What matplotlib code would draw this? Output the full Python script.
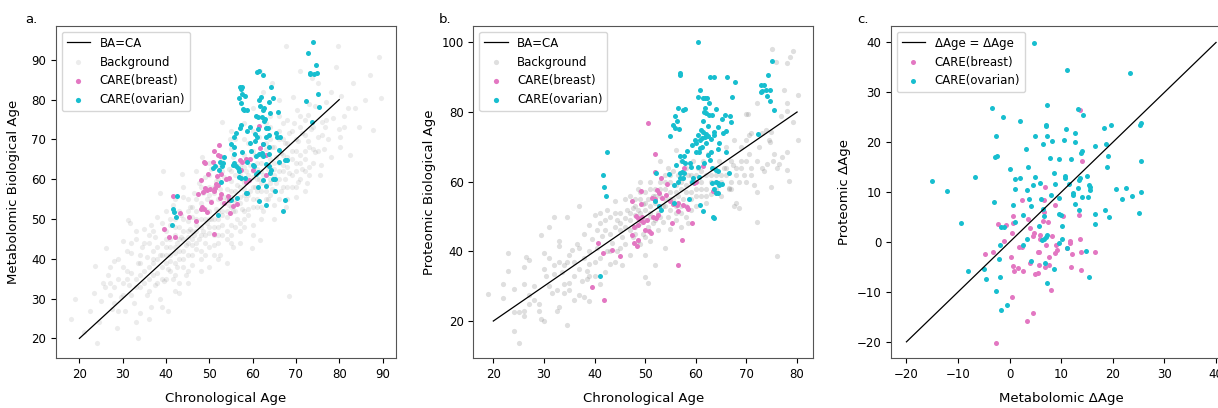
import numpy as np
import matplotlib.pyplot as plt

# ---- panel a: metabolomic biological age vs chronological age ----
bg_a = [
    (18.1, 25.0), (19.0, 29.8), (21.0, 21.5), (22.5, 27.0), (23.4, 31.3), (23.5, 38.3), (24.0, 18.9), (24.5, 24.0),
    (25.0, 29.5), (25.5, 34.0), (26.1, 42.6), (26.5, 36.0), (27.0, 31.0), (27.5, 27.5), (28.0, 39.5), (28.6, 22.7),
    (29.0, 35.0), (29.5, 30.5), (30.0, 44.5), (30.0, 38.0), (30.5, 27.0), (31.3, 49.8), (31.7, 49.0), (31.5, 33.5),
    (32.0, 41.5), (32.0, 36.5), (32.5, 29.0), (33.0, 45.0), (33.5, 20.0), (33.5, 39.0), (34.0, 33.0), (34.0, 26.5),
    (34.5, 43.0), (35.0, 47.5), (35.0, 37.0), (35.5, 31.0), (35.5, 40.5), (36.0, 44.0), (36.0, 35.0), (36.5, 28.0),
    (36.5, 48.5), (37.0, 39.0), (37.0, 42.0), (37.5, 33.5), (37.5, 45.5), (38.0, 36.5), (38.0, 50.5), (38.5, 56.6),
    (38.5, 41.0), (38.5, 30.0), (39.0, 44.0), (39.0, 38.0), (39.4, 62.0), (39.5, 47.5), (39.5, 34.5), (40.0, 41.0),
    (40.0, 52.0), (40.0, 45.0), (40.5, 37.5), (40.5, 27.0), (41.0, 48.5), (41.0, 43.0), (41.0, 39.5), (41.5, 53.5),
    (41.5, 35.0), (42.0, 46.0), (42.0, 41.5), (42.0, 50.0), (42.5, 44.0), (42.5, 38.0), (43.0, 48.0), (43.0, 42.0),
    (43.0, 31.5), (43.5, 51.0), (43.5, 45.5), (43.8, 61.2), (44.0, 40.0), (44.0, 47.0), (44.0, 55.5), (44.5, 43.5),
    (44.5, 36.0), (45.0, 49.5), (45.0, 45.5), (45.0, 41.0), (45.5, 53.0), (45.5, 47.5), (46.0, 43.5), (46.0, 50.5),
    (46.0, 38.5), (46.5, 56.5), (46.5, 46.0), (47.0, 52.0), (47.0, 48.5), (47.0, 42.5), (47.5, 59.0), (47.5, 45.0),
    (48.0, 54.0), (48.0, 50.0), (48.0, 40.0), (48.2, 65.7), (48.5, 47.0), (48.5, 56.5), (49.0, 52.5), (49.0, 44.0),
    (49.0, 60.5), (49.5, 49.0), (49.5, 55.0), (50.0, 46.5), (50.0, 52.0), (50.0, 58.0), (50.0, 38.0), (50.5, 50.0),
    (50.5, 54.5), (50.5, 62.5), (51.0, 48.0), (51.0, 56.5), (51.0, 43.5), (51.5, 52.5), (51.5, 59.5), (52.0, 50.0),
    (52.0, 55.0), (52.0, 46.0), (52.5, 57.5), (52.5, 63.0), (52.5, 41.0), (53.0, 52.0), (53.0, 48.5), (53.0, 74.5),
    (53.5, 55.5), (53.5, 60.5), (54.0, 50.5), (54.0, 57.5), (54.0, 45.0), (54.5, 53.5), (54.5, 62.5), (54.8, 70.0),
    (55.0, 55.5), (55.0, 48.5), (55.0, 59.5), (55.5, 52.0), (55.5, 65.5), (55.5, 43.0), (56.0, 57.0), (56.0, 54.0),
    (56.0, 61.0), (56.5, 50.0), (56.5, 58.5), (57.0, 55.5), (57.0, 63.5), (57.0, 47.0), (57.5, 60.0), (57.5, 52.5),
    (58.0, 57.5), (58.0, 66.0), (58.0, 50.0), (58.5, 62.0), (58.5, 55.0), (59.0, 59.5), (59.0, 52.5), (59.0, 69.0),
    (59.5, 57.0), (59.5, 63.5), (59.9, 42.6), (60.0, 60.5), (60.0, 55.0), (60.0, 48.5), (60.5, 58.0), (60.5, 66.0),
    (61.0, 62.5), (61.0, 53.0), (61.5, 60.0), (61.5, 70.5), (61.7, 44.8), (62.0, 57.0), (62.0, 64.0), (62.5, 61.0),
    (62.5, 52.0), (63.0, 67.5), (63.0, 58.5), (63.5, 62.5), (63.5, 55.0), (64.0, 65.0), (64.0, 60.0), (64.0, 73.0),
    (64.4, 84.1), (64.5, 57.5), (64.5, 68.0), (65.0, 62.5), (65.0, 53.5), (65.5, 65.5), (65.5, 59.0), (66.0, 70.0),
    (66.0, 62.0), (66.0, 80.0), (66.5, 57.0), (66.5, 66.5), (67.0, 63.5), (67.0, 74.0), (67.5, 60.0), (67.5, 69.0),
    (67.8, 53.1), (67.8, 93.4), (68.0, 65.5), (68.3, 30.7), (68.5, 71.5), (68.5, 61.5), (69.0, 67.0), (69.0, 58.0),
    (69.4, 80.6), (69.6, 74.1), (70.0, 64.0), (70.1, 55.6), (70.2, 77.4), (70.5, 59.4), (70.5, 69.5), (70.9, 87.1),
    (71.0, 66.0), (71.3, 71.6), (71.5, 62.5), (72.0, 75.0), (72.0, 65.0), (72.5, 59.0), (72.8, 69.5), (72.8, 76.2),
    (73.0, 63.0), (73.5, 72.5), (73.6, 85.4), (74.0, 67.5), (74.4, 66.9), (74.5, 78.5), (75.0, 70.5), (75.2, 84.1),
    (75.5, 61.1), (75.9, 63.6), (76.0, 74.5), (76.5, 67.5), (76.7, 73.2), (77.0, 79.5), (77.5, 70.0), (78.0, 65.5),
    (78.5, 75.5), (79.2, 88.3), (79.6, 93.4), (80.0, 72.5), (80.2, 68.2), (80.2, 70.7), (80.5, 80.8), (81.0, 76.0),
    (82.0, 77.8), (82.5, 66.1), (83.2, 84.1), (83.6, 77.8), (84.5, 73.0), (86.0, 80.0), (87.1, 86.2), (87.8, 72.4),
    (89.2, 90.7), (89.6, 80.5), (61.8, 87.1), (62.5, 82.0), (60.0, 78.0), (58.0, 74.0), (56.0, 70.0), (55.0, 67.5),
    (36.0, 38.0), (37.0, 36.0), (38.0, 40.0), (39.0, 41.0), (40.0, 43.0), (40.0, 39.0), (41.0, 41.0), (41.0, 45.0),
    (42.0, 43.0), (42.0, 39.0), (43.0, 45.0), (43.0, 40.0), (44.0, 42.0), (44.0, 45.0), (45.0, 44.0), (45.0, 47.0),
    (46.0, 45.0), (46.0, 41.0), (47.0, 47.0), (47.0, 44.0), (48.0, 46.0), (48.0, 48.0), (49.0, 46.0), (49.0, 50.0),
    (50.0, 48.0), (50.0, 50.0), (51.0, 50.0), (51.0, 46.0), (52.0, 52.0), (52.0, 48.0), (53.0, 51.0), (53.0, 54.0),
    (54.0, 52.0), (54.0, 55.0), (55.0, 53.0), (55.0, 57.0), (56.0, 55.0), (56.0, 52.0), (57.0, 58.0), (57.0, 54.0),
    (58.0, 56.0), (58.0, 59.0), (59.0, 56.0), (59.0, 61.0), (60.0, 58.0), (60.0, 62.0), (61.0, 57.0), (61.0, 60.0),
    (62.0, 59.0), (62.0, 62.0), (63.0, 61.0), (63.0, 57.0), (64.0, 63.0), (64.0, 59.0), (65.0, 61.0), (65.0, 64.0),
    (66.0, 60.0), (66.0, 64.0), (67.0, 62.0), (67.0, 66.0), (68.0, 63.0), (69.0, 65.0), (70.0, 62.0), (70.0, 67.0),
    (71.0, 64.0), (72.0, 67.0), (45.0, 55.0), (50.0, 61.0), (53.0, 65.0), (60.0, 72.0), (64.0, 76.0), (68.0, 75.0),
    (71.0, 73.0), (73.0, 79.0), (78.0, 82.0), (81.0, 73.0), (52.0, 40.0), (55.0, 44.0), (58.0, 48.0), (62.0, 50.0),
    (65.0, 50.0), (68.0, 55.0), (72.0, 57.0), (31.0, 37.0), (33.0, 35.0), (34.0, 39.0), (29.0, 27.0), (27.0, 34.0),
    (26.0, 33.0), (27.0, 38.0), (28.0, 33.0), (28.0, 29.0), (29.0, 40.0), (30.0, 34.0), (30.0, 31.0), (31.0, 42.0),
    (31.0, 35.0), (32.0, 31.0), (32.0, 44.0), (33.0, 33.0), (33.0, 47.0), (34.0, 36.0), (34.0, 41.0), (35.0, 34.0),
    (35.0, 44.0), (36.0, 46.0), (36.0, 32.0), (37.0, 40.0), (37.0, 47.0), (38.0, 34.0), (38.0, 43.0), (39.0, 49.0),
    (39.0, 35.0), (40.0, 47.0), (40.0, 35.0), (41.0, 50.0), (41.0, 37.0), (42.0, 48.0), (42.0, 36.0), (43.0, 52.0),
    (43.0, 34.0), (44.0, 50.0), (44.0, 38.0), (45.0, 52.0), (45.0, 37.0), (46.0, 53.0), (46.0, 47.0), (47.0, 55.0),
    (47.0, 50.0), (48.0, 42.0), (48.0, 58.0), (49.0, 41.0), (49.0, 57.0), (50.0, 43.0), (50.0, 56.0), (51.0, 58.0),
    (51.0, 41.0), (52.0, 60.0), (52.0, 44.0), (53.0, 46.0), (53.0, 62.0), (54.0, 47.0), (54.0, 60.0), (55.0, 62.0),
    (55.0, 46.0), (56.0, 48.0), (56.0, 64.0), (57.0, 49.0), (57.0, 61.0), (58.0, 52.0), (58.0, 63.0), (59.0, 51.0),
    (59.0, 65.0), (60.0, 53.0), (60.0, 67.0), (61.0, 55.0), (61.0, 64.0), (62.0, 53.0), (62.0, 66.0), (63.0, 55.0),
    (63.0, 69.0), (64.0, 56.0), (64.0, 70.0), (65.0, 57.0), (65.0, 68.0), (66.0, 55.0), (66.0, 72.0), (67.0, 58.0),
    (67.0, 70.0), (68.0, 58.0), (68.0, 69.0), (69.0, 61.0), (69.0, 72.0), (70.0, 58.0), (70.0, 70.0), (71.0, 60.0),
    (71.0, 76.0), (72.0, 62.0), (72.0, 71.0), (73.0, 68.0), (73.0, 61.0), (74.0, 73.0), (74.0, 64.0), (75.0, 67.0),
    (76.0, 71.0), (77.0, 75.0), (60.0, 46.0), (57.0, 44.0), (54.0, 39.0), (48.0, 37.0), (45.0, 34.0), (42.0, 32.0),
    (39.0, 28.0), (36.0, 25.0), (33.0, 24.0), (44.0, 58.0), (42.0, 55.0), (47.0, 62.0), (50.0, 64.0), (55.0, 72.0),
    (58.0, 70.0), (63.0, 74.0), (66.0, 76.0),
]

breast_a = [
    (52.2, 68.7), (51.0, 67.1), (52.0, 66.0), (52.5, 65.9), (48.8, 64.4), (49.0, 64.0), (50.9, 64.4), (49.8, 61.4),
    (51.8, 60.7), (52.8, 61.2), (48.0, 59.8), (53.8, 60.1), (54.6, 60.2), (51.6, 58.9), (49.0, 57.7), (49.5, 57.3),
    (50.2, 57.5), (51.0, 57.1), (51.3, 57.7), (47.3, 56.2), (48.6, 56.7), (52.8, 56.2), (50.5, 54.4), (54.2, 55.8),
    (54.6, 54.8), (48.3, 53.1), (48.7, 52.6), (48.1, 52.4), (49.4, 51.8), (45.2, 50.6), (43.2, 51.4), (46.9, 49.5),
    (51.1, 46.2), (39.5, 47.6), (40.7, 45.5), (42.0, 45.4), (41.7, 55.8), (54.8, 51.6), (55.5, 53.3), (56.5, 53.8),
    (53.3, 53.9), (57.1, 64.9), (57.5, 64.3), (58.5, 65.0), (59.4, 65.0), (57.4, 62.2), (58.5, 59.4), (59.2, 59.8),
    (60.2, 62.3), (61.4, 73.4), (62.5, 68.9), (61.8, 67.8), (63.2, 66.0), (63.2, 61.1), (52.5, 55.2), (52.1, 58.5),
]

ovarian_a = [
    (74.0, 94.6), (72.8, 91.7), (74.6, 88.7), (73.2, 86.5), (73.3, 86.8), (74.2, 86.5), (74.9, 86.6), (75.2, 81.5),
    (72.3, 79.6), (75.4, 78.2), (73.6, 74.4), (61.1, 87.0), (61.5, 87.2), (62.3, 86.1), (57.1, 83.1), (57.2, 82.6),
    (57.5, 83.1), (57.6, 81.4), (56.8, 80.4), (58.2, 80.9), (64.2, 83.1), (62.0, 80.7), (61.5, 79.9), (64.8, 80.3),
    (57.4, 79.1), (57.7, 77.6), (58.1, 77.4), (58.8, 77.4), (61.7, 78.3), (62.7, 77.8), (62.5, 77.4), (63.8, 79.4),
    (64.0, 76.6), (65.8, 76.8), (60.8, 75.9), (61.2, 75.6), (62.1, 75.7), (62.8, 75.2), (62.6, 74.7), (57.2, 73.5),
    (57.1, 72.9), (56.2, 71.5), (55.8, 70.5), (55.0, 68.9), (59.5, 73.2), (58.7, 72.1), (61.2, 72.7), (60.6, 71.3),
    (61.0, 70.6), (63.1, 72.8), (63.5, 72.9), (63.1, 70.7), (63.8, 71.1), (65.5, 71.6), (65.7, 70.6), (66.3, 70.7),
    (59.3, 69.0), (60.6, 69.5), (62.3, 68.9), (63.7, 68.0), (66.0, 67.4), (55.8, 68.1), (55.8, 66.3), (57.5, 66.8),
    (59.7, 67.2), (60.7, 65.9), (61.4, 66.4), (62.2, 66.6), (62.5, 65.8), (63.8, 66.4), (66.2, 64.3), (67.4, 64.8),
    (67.9, 64.9), (53.4, 65.7), (52.5, 64.2), (53.1, 64.0), (55.8, 64.1), (56.1, 63.2), (56.6, 62.8), (56.8, 62.1),
    (58.8, 64.4), (60.0, 63.6), (60.4, 63.3), (63.0, 63.8), (63.7, 63.2), (64.3, 62.2), (64.0, 61.5), (58.2, 60.2),
    (57.2, 60.2), (61.2, 61.9), (60.8, 61.4), (62.5, 59.8), (64.6, 60.0), (65.1, 60.0), (63.2, 58.3), (61.3, 58.1),
    (58.6, 56.6), (65.2, 57.1), (56.5, 55.2), (55.0, 54.8), (61.4, 54.6), (63.0, 53.4), (67.4, 54.9), (67.1, 52.0),
    (52.0, 50.9), (42.5, 55.8), (41.7, 52.4), (41.8, 51.8), (42.2, 50.6), (41.3, 48.4), (51.4, 63.3), (50.9, 62.8),
    (52.3, 62.3), (52.9, 63.2), (55.5, 63.6), (56.9, 60.6), (52.8, 59.4), (58.5, 56.5),
]

# ---- panel b: proteomic biological age vs chronological age ----
bg_b = [
    (19.0, 27.8), (22.0, 26.5), (22.0, 30.5), (23.0, 39.5), (23.0, 34.5), (24.0, 29.3), (24.0, 22.5), (24.0, 17.0),
    (25.0, 13.8), (25.0, 22.5), (26.0, 35.5), (26.0, 30.5), (26.0, 23.0), (26.0, 21.5), (26.5, 38.5), (27.0, 37.5),
    (27.0, 27.5), (27.0, 25.0), (28.0, 26.0), (28.0, 30.0), (29.0, 25.0), (29.0, 23.0), (29.5, 44.8), (29.5, 20.5),
    (30.0, 20.0), (30.0, 35.0), (30.0, 39.5), (30.5, 33.0), (31.0, 38.0), (31.0, 47.0), (31.0, 30.0), (31.5, 28.0),
    (32.0, 36.0), (32.0, 33.5), (32.0, 50.0), (32.5, 29.0), (32.5, 23.0), (33.0, 43.0), (33.0, 41.5), (33.0, 24.0),
    (33.0, 37.0), (33.5, 34.0), (34.0, 28.0), (34.0, 30.5), (34.0, 36.0), (34.5, 50.0), (34.5, 37.0), (34.5, 18.8),
    (35.0, 31.0), (35.0, 39.0), (35.0, 29.0), (35.5, 40.5), (36.0, 33.0), (36.0, 26.0), (36.5, 42.0), (37.0, 53.0),
    (37.0, 27.5), (37.0, 35.0), (37.5, 31.5), (38.0, 45.0), (38.0, 38.0), (38.0, 27.0), (38.5, 32.0), (38.5, 34.5),
    (39.0, 47.5), (39.0, 40.0), (39.0, 36.5), (39.0, 25.8), (39.5, 43.5), (40.0, 50.5), (40.0, 37.0), (40.0, 33.0),
    (40.5, 46.0), (40.5, 41.0), (41.0, 51.0), (41.0, 48.0), (41.0, 30.5), (41.5, 44.5), (42.0, 49.0), (42.0, 46.0),
    (42.0, 34.0), (42.5, 52.0), (42.5, 40.0), (43.0, 50.0), (43.0, 45.0), (43.0, 36.5), (43.5, 42.5), (44.0, 54.5),
    (44.0, 47.0), (44.0, 37.0), (44.5, 49.0), (44.5, 40.0), (45.0, 46.0), (45.0, 51.0), (45.5, 44.0), (45.5, 36.0),
    (46.0, 49.5), (46.0, 42.0), (46.5, 52.0), (47.0, 56.0), (47.0, 49.0), (47.0, 46.0), (47.0, 39.0), (47.5, 52.5),
    (47.5, 44.0), (48.0, 55.0), (48.0, 50.5), (48.0, 47.0), (48.5, 58.0), (48.5, 52.0), (48.5, 43.0), (49.0, 55.0),
    (49.0, 51.0), (49.0, 48.0), (49.0, 60.0), (49.5, 53.5), (49.5, 45.0), (50.0, 57.0), (50.0, 52.0), (50.0, 49.0),
    (50.0, 39.0), (50.0, 32.5), (50.5, 55.0), (50.5, 47.0), (50.5, 31.0), (51.0, 60.0), (51.0, 53.0), (51.0, 50.0),
    (51.0, 43.0), (51.5, 56.0), (51.5, 48.0), (52.0, 58.0), (52.0, 54.0), (52.0, 36.0), (52.5, 51.0), (52.5, 46.0),
    (53.0, 60.0), (53.0, 56.0), (53.0, 66.0), (53.5, 53.0), (53.5, 48.5), (54.0, 62.0), (54.0, 58.0), (54.0, 55.0),
    (54.0, 41.0), (54.5, 64.0), (54.5, 50.0), (55.0, 60.0), (55.0, 57.0), (55.0, 52.0), (55.0, 46.5), (55.5, 63.0),
    (55.5, 55.0), (56.0, 69.0), (56.0, 59.0), (56.0, 53.0), (56.0, 49.0), (56.5, 62.0), (56.5, 56.0), (57.0, 66.0),
    (57.0, 58.0), (57.0, 51.0), (57.0, 47.0), (57.5, 61.0), (57.5, 55.0), (58.0, 64.0), (58.0, 59.0), (58.0, 53.0),
    (58.5, 62.0), (58.5, 48.0), (59.0, 57.0), (59.0, 60.0), (59.0, 55.0), (59.5, 66.0), (60.0, 62.0), (60.0, 58.0),
    (60.0, 53.0), (60.5, 64.0), (61.0, 60.0), (61.0, 56.0), (61.5, 66.0), (62.0, 58.0), (62.0, 62.0), (62.0, 54.0),
    (62.5, 68.0), (63.0, 60.0), (63.0, 56.5), (63.5, 64.0), (64.0, 58.0), (64.0, 62.0), (64.5, 66.0), (65.0, 56.0),
    (65.0, 60.0), (65.5, 64.0), (66.0, 70.0), (66.0, 62.0), (66.5, 58.0), (67.0, 66.0), (67.0, 60.0), (67.5, 72.0),
    (68.0, 64.0), (68.0, 54.0), (68.5, 60.0), (68.5, 52.5), (69.0, 70.0), (69.0, 66.0), (69.5, 62.0), (70.0, 79.5),
    (70.0, 72.0), (70.0, 60.0), (70.5, 68.0), (71.0, 74.0), (71.0, 64.0), (71.5, 59.0), (72.0, 48.5), (72.0, 82.5),
    (72.0, 57.0), (72.5, 70.0), (73.0, 74.0), (73.5, 63.0), (74.0, 65.0), (74.5, 72.0), (75.1, 98.1), (74.9, 58.5),
    (74.6, 71.4), (75.5, 68.0), (75.8, 94.3), (76.0, 38.7), (76.0, 64.0), (76.5, 65.0), (77.0, 67.0), (76.9, 78.8),
    (77.4, 86.2), (78.0, 94.0), (78.0, 82.7), (78.0, 68.5), (78.0, 63.5), (78.4, 60.3), (79.2, 97.6), (78.0, 80.4),
    (78.6, 95.9), (80.2, 84.9), (80.1, 72.0), (79.2, 77.0), (70.3, 79.4), (70.5, 73.5), (67.4, 64.8), (66.6, 58.3),
    (67.6, 53.0), (73.9, 74.8), (74.9, 74.3), (75.2, 65.9),
    (44.0, 51.0), (45.0, 48.0), (46.0, 55.0), (46.0, 47.0), (47.0, 51.0), (48.0, 53.0), (48.0, 45.0), (49.0, 57.0),
    (49.0, 42.0), (50.0, 54.0), (50.0, 44.0), (51.0, 58.0), (51.0, 51.0), (52.0, 56.0), (52.0, 49.0), (53.0, 58.0),
    (53.0, 50.0), (54.0, 53.0), (54.0, 60.0), (55.0, 55.0), (55.0, 62.0), (56.0, 57.0), (56.0, 51.0), (57.0, 60.0),
    (57.0, 53.0), (58.0, 57.0), (58.0, 50.0), (59.0, 62.0), (59.0, 52.0), (60.0, 56.0), (61.0, 63.0), (61.0, 58.0),
    (62.0, 56.0), (63.0, 62.0), (64.0, 60.0), (65.0, 62.0), (66.0, 64.0), (67.0, 58.0), (68.0, 62.0), (69.0, 64.0),
    (70.0, 66.0), (71.0, 62.0), (72.0, 66.0), (73.0, 64.0), (36.0, 37.0), (37.0, 41.0), (39.0, 33.0), (41.0, 38.0),
    (43.0, 40.0), (45.0, 41.0),
]

breast_b = [
    (50.5, 76.9), (52.0, 67.9), (52.0, 62.9), (61.4, 64.6), (57.6, 63.8), (60.1, 60.0), (59.6, 59.7), (54.3, 59.4),
    (53.1, 61.2), (49.2, 57.3), (47.4, 54.5), (49.1, 53.5), (52.4, 57.6), (52.8, 56.7), (53.4, 55.2), (54.2, 56.2),
    (51.4, 55.2), (52.0, 54.9), (54.9, 54.5), (55.5, 53.6), (56.5, 53.9), (56.3, 53.3), (57.5, 53.3), (58.2, 52.6),
    (58.4, 52.3), (56.5, 51.7), (51.6, 50.0), (52.1, 49.5), (52.6, 50.4), (48.1, 50.1), (48.5, 49.5), (48.9, 49.0),
    (49.3, 49.9), (50.3, 49.0), (49.6, 48.5), (47.8, 47.1), (48.6, 47.6), (49.9, 46.1), (50.8, 45.9), (51.1, 45.4),
    (47.4, 44.7), (48.6, 43.4), (47.8, 42.3), (48.3, 41.5), (55.3, 48.0), (59.3, 48.2), (57.3, 43.3), (56.4, 36.1),
    (40.6, 42.3), (41.6, 39.6), (43.5, 40.4), (45.1, 38.7), (39.4, 29.9), (41.8, 26.0), (63.3, 57.4),
]

ovarian_b = [
    (60.5, 100.2), (56.8, 90.6), (56.9, 91.1), (62.9, 90.0), (63.6, 90.0), (66.1, 90.0), (67.7, 88.7), (75.1, 94.6),
    (74.3, 90.7), (72.8, 87.8), (73.4, 87.9), (73.8, 86.3), (73.1, 86.1), (72.8, 85.7), (74.6, 86.3), (74.0, 84.6),
    (74.6, 83.3), (75.4, 80.6), (72.2, 73.7), (67.2, 84.2), (60.8, 86.3), (60.5, 84.4), (61.4, 84.1), (62.2, 83.9),
    (61.9, 84.1), (62.7, 82.5), (63.9, 80.8), (61.8, 81.1), (61.6, 80.1), (62.1, 79.6), (62.6, 79.1), (63.1, 79.1),
    (65.7, 79.1), (65.1, 77.9), (66.8, 78.9), (66.9, 77.0), (56.4, 81.2), (57.4, 80.6), (57.8, 81.0), (55.9, 78.9),
    (56.2, 77.5), (55.4, 76.3), (55.8, 75.5), (56.7, 75.0), (55.0, 73.1), (61.4, 77.4), (62.5, 76.0), (61.0, 74.8),
    (61.4, 74.2), (62.0, 73.8), (62.4, 73.2), (61.8, 72.9), (61.3, 72.6), (60.8, 71.9), (60.5, 73.4), (59.8, 72.0),
    (60.1, 71.0), (59.3, 70.5), (61.3, 70.0), (62.1, 71.0), (63.0, 72.2), (63.6, 73.4), (63.6, 74.4), (64.4, 75.8),
    (65.4, 74.1), (65.9, 74.6), (64.6, 71.0), (64.4, 69.3), (65.9, 68.6), (63.0, 68.6), (62.4, 67.7), (62.8, 66.2),
    (60.8, 69.6), (60.7, 68.5), (60.0, 68.6), (58.2, 68.9), (56.9, 67.4), (57.6, 67.4), (57.3, 66.0), (57.9, 65.3),
    (56.1, 64.8), (58.8, 65.3), (59.1, 64.3), (60.5, 64.1), (61.6, 65.3), (63.1, 63.8), (64.0, 63.5), (64.3, 63.1),
    (66.6, 62.4), (52.2, 62.4), (54.7, 62.1), (56.8, 62.4), (57.3, 62.9), (57.7, 62.6), (56.9, 61.0), (57.5, 61.0),
    (56.4, 59.8), (55.7, 59.0), (59.2, 60.0), (59.5, 61.0), (60.7, 61.4), (63.1, 59.7), (64.0, 60.0), (64.3, 59.5),
    (64.6, 59.0), (65.1, 59.2), (63.6, 57.8), (64.0, 56.8), (64.4, 56.8), (58.7, 55.1), (55.7, 53.8), (52.8, 53.1),
    (53.1, 51.9), (52.0, 54.5), (60.8, 53.3), (61.4, 51.6), (63.3, 50.0), (63.6, 49.5), (41.6, 61.9), (41.8, 58.4),
    (42.2, 55.9), (42.4, 68.6), (41.1, 32.8),
]

# ---- panel c: proteomic delta age vs metabolomic delta age ----
ovarian_c = [
    (4.7, 39.9), (11.2, 34.5), (23.4, 33.8), (-3.5, 26.8), (7.3, 27.4), (-1.3, 25.0), (2.1, 24.2), (14.2, 25.4),
    (13.2, 26.6), (-2.6, 21.3), (4.9, 21.3), (7.0, 23.2), (7.0, 23.5), (7.2, 21.2), (10.9, 22.6), (12.7, 21.9),
    (18.3, 22.8), (19.7, 23.5), (25.2, 23.4), (25.4, 23.8), (10.5, 20.4), (8.3, 20.2), (6.5, 19.7), (12.6, 20.0),
    (16.5, 19.3), (18.6, 19.6), (-2.8, 17.1), (-2.5, 17.3), (3.2, 18.6), (7.9, 16.9), (9.5, 16.7), (11.9, 16.7),
    (13.8, 17.9), (14.0, 18.2), (19.0, 17.3), (25.5, 16.3), (0.1, 14.7), (3.5, 15.1), (18.9, 15.0), (-6.8, 13.1),
    (-15.0, 12.3), (1.0, 12.6), (2.1, 12.9), (4.9, 13.0), (8.5, 13.9), (10.8, 13.3), (10.7, 12.9), (15.0, 13.3),
    (13.4, 12.5), (5.9, 11.9), (4.6, 11.5), (8.8, 11.7), (11.6, 11.7), (13.6, 12.9), (15.4, 11.5), (15.5, 11.0),
    (15.5, 10.5), (-12.1, 10.2), (1.0, 10.6), (3.3, 10.5), (8.1, 9.4), (9.5, 8.9), (12.2, 9.9), (12.3, 9.5),
    (13.2, 10.9), (14.1, 9.0), (15.2, 9.0), (20.6, 10.7), (22.6, 10.8), (21.7, 8.6), (23.7, 9.3), (25.4, 10.1),
    (-3.1, 8.0), (0.6, 7.5), (3.8, 8.7), (4.1, 7.2), (6.0, 8.7), (6.5, 6.6), (12.6, 7.7), (13.5, 6.5),
    (-9.5, 3.9), (2.6, 5.4), (1.0, 4.1), (5.7, 3.3), (6.7, 5.2), (9.6, 5.6), (9.9, 5.4), (10.2, 3.3),
    (16.5, 5.7), (16.5, 3.6), (18.4, 6.5), (19.2, 5.0), (25.0, 5.9), (-1.7, 3.0), (-1.0, 3.1), (6.3, 0.5),
    (6.6, 0.7), (7.0, 1.1), (7.3, 1.4), (3.4, 0.6), (10.2, 0.7), (9.6, -0.2), (-1.9, -0.5), (2.6, -0.5),
    (11.1, -1.1), (14.8, -1.7), (-2.1, -3.3), (4.1, -3.8), (6.8, -4.2), (-8.1, -5.8), (-5.0, -5.4), (-4.6, -7.4),
    (-1.8, -7.1), (8.5, -5.4), (15.4, -7.1), (7.2, -8.3), (-2.6, -9.8), (-1.7, -13.6), (-0.6, -12.7),
]

breast_c = [
    (13.7, 26.4), (14.0, 16.2), (2.3, 8.4), (6.8, 11.1), (6.6, 8.4), (8.8, 7.5), (6.6, 6.1), (0.6, 5.3),
    (3.6, 4.6), (6.5, 4.2), (7.5, 4.1), (10.4, 5.3), (13.5, 5.5), (-2.3, 3.6), (-0.8, 3.4), (0.6, 3.9),
    (3.9, 2.9), (4.8, 1.9), (4.5, 1.2), (5.8, 1.5), (5.9, 0.7), (8.2, 1.2), (0.4, 1.9), (-1.1, 0.2),
    (11.7, 0.3), (11.7, -0.1), (13.7, 0.7), (7.0, -0.5), (9.0, -0.5), (1.8, -0.9), (2.3, -0.9), (9.2, -1.5),
    (11.1, -1.1), (8.8, -2.1), (5.4, -1.9), (5.7, -2.0), (12.0, -2.3), (13.9, -2.0), (16.5, -2.0), (-4.8, -2.4),
    (-3.2, -2.0), (0.3, -2.9), (7.7, -3.0), (3.9, -4.2), (0.6, -4.8), (5.7, -4.6), (7.6, -4.6), (6.8, -5.1),
    (1.7, -5.3), (0.9, -5.8), (2.6, -5.8), (11.9, -5.0), (13.8, -5.7), (5.4, -6.2), (5.0, -6.4), (8.1, -9.6),
    (0.5, -11.1), (4.5, -14.3), (3.4, -15.8), (-2.6, -20.3),
]

PINK = '#e377c2'
CYAN = '#17becf'

plt.rcParams['font.family'] = 'DejaVu Sans'
fig = plt.figure(figsize=(12.18, 4.08), dpi=100)
ax_a = fig.add_axes([0.046, 0.1218, 0.2791, 0.8145])
ax_b = fig.add_axes([0.3886, 0.1218, 0.2791, 0.8145])
ax_c = fig.add_axes([0.7315, 0.1218, 0.2796, 0.8145])


def age_panel(ax, bg, breast, ovarian, bg_alpha):
    bg = np.array(bg)
    br = np.array(breast)
    ov = np.array(ovarian)
    ax.plot([20, 80], [20, 80], color='black', lw=0.9, label='BA=CA')
    ax.scatter(bg[:, 0], bg[:, 1], s=14, color='grey', alpha=bg_alpha, linewidths=0, label='Background')
    ax.scatter(br[:, 0], br[:, 1], s=13, color=PINK, linewidths=0, label='CARE(breast)')
    ax.scatter(ov[:, 0], ov[:, 1], s=13, color=CYAN, linewidths=0, label='CARE(ovarian)')
    ax.set_xlabel('Chronological Age', fontsize=9.5, labelpad=8)
    leg = ax.legend(loc='upper left', fontsize=8.5)
    for h in leg.legend_handles[1:]:
        h.set_sizes([14])


age_panel(ax_a, bg_a, breast_a, ovarian_a, 0.15)
ax_a.set_xlim(14.6, 93.1)
ax_a.set_ylim(15.0, 98.5)
ax_a.set_xticks(range(20, 91, 10))
ax_a.set_yticks(range(20, 91, 10))
ax_a.set_ylabel('Metabolomic Biological Age', fontsize=9.5, labelpad=8)

age_panel(ax_b, bg_b, breast_b, ovarian_b, 0.25)
ax_b.set_xlim(16.05, 83.2)
ax_b.set_ylim(9.3, 104.7)
ax_b.set_xticks(range(20, 81, 10))
ax_b.set_yticks(range(20, 101, 20))
ax_b.set_ylabel('Proteomic Biological Age', fontsize=9.5, labelpad=4)

br = np.array(breast_c)
ov = np.array(ovarian_c)
ax_c.plot([-20, 40], [-20, 40], color='black', lw=0.9, label='ΔAge = ΔAge')
ax_c.scatter(br[:, 0], br[:, 1], s=13, color=PINK, linewidths=0, label='CARE(breast)')
ax_c.scatter(ov[:, 0], ov[:, 1], s=13, color=CYAN, linewidths=0, label='CARE(ovarian)')
ax_c.set_xlim(-23, 43)
ax_c.set_ylim(-23.3, 43.3)
ax_c.set_xticks(range(-20, 41, 10))
ax_c.set_yticks(range(-20, 41, 10))
ax_c.set_xlabel('Metabolomic ΔAge', fontsize=9.5, labelpad=8)
ax_c.set_ylabel('Proteomic ΔAge', fontsize=9.5, labelpad=4)
ax_c.legend(loc='upper left', fontsize=8.5)

for ax in (ax_a, ax_b, ax_c):
    ax.tick_params(labelsize=8.5)
    for sp in ax.spines.values():
        sp.set_color('#555555')

fig.text(0.0205, 0.944, 'a.', fontsize=9.5)
fig.text(0.3604, 0.944, 'b.', fontsize=9.5)
fig.text(0.7036, 0.944, 'c.', fontsize=9.5)

fig.savefig('out.png', dpi=100)
